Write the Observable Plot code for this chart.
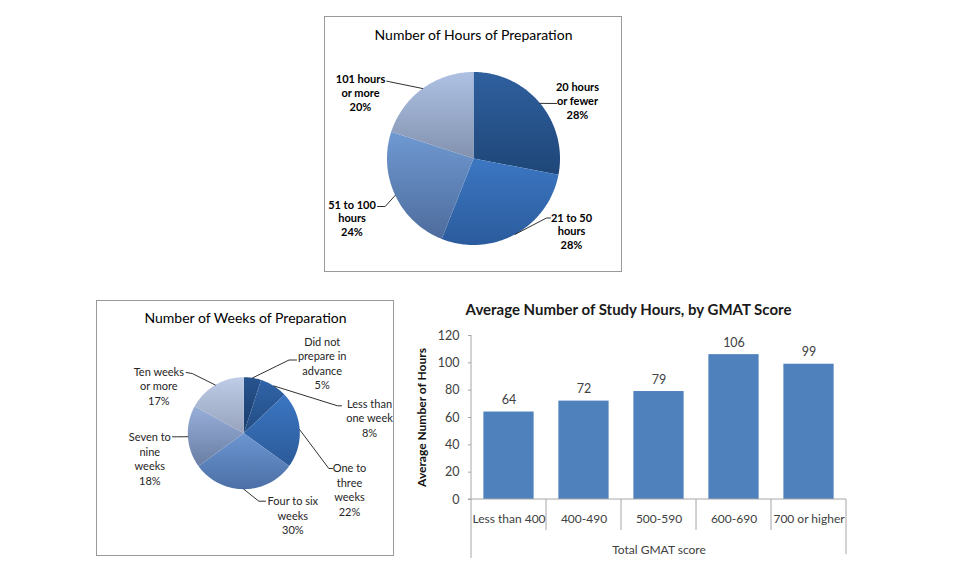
<!DOCTYPE html>
<html>
<head>
<meta charset="utf-8">
<script src="https://cdn.jsdelivr.net/npm/d3@7"></script>
<script src="https://cdn.jsdelivr.net/npm/@observablehq/plot@0.6"></script>
<style>
  html, body { margin: 0; padding: 0; background: #ffffff; }
  #page { position: relative; width: 955px; height: 583px; overflow: hidden; font-family: Lato, "Open Sans", sans-serif; }
  .box { position: absolute; border: 1px solid #9a9a9a; box-sizing: border-box; background: #ffffff; }
  .abs { position: absolute; }
</style>
</head>
<body>
<div id="page"></div>
<script>
// ---------------- DATA ----------------
const hoursCategories = ["20 hours\nor fewer", "21 to 50\nhours", "51 to 100\nhours", "101 hours\nor more"];
const hoursShares = [28, 28, 24, 20];

const weeksCategories = ["Did not\nprepare in\nadvance", "Less than\none week", "One to\nthree\nweeks", "Four to six\nweeks", "Seven to\nnine\nweeks", "Ten weeks\nor more"];
const weeksShares = [5, 8, 22, 30, 18, 17];

const scoreBands = ["Less than 400", "400-490", "500-590", "600-690", "700 or higher"];
const avgHours = [64, 72, 79, 106, 99];
const yTicks = [0, 20, 40, 60, 80, 100, 120];

const hoursTitle = "Number of Hours of Preparation";
const weeksTitle = "Number of Weeks of Preparation";
const barTitle = "Average Number of Study Hours, by GMAT Score";
const barYLabel = "Average Number of Hours";
const barXLabel = "Total GMAT score";

// ---------------- LAYOUT / STYLE (page pixel coordinates) ----------------
const hoursLayout = {
  box: {x: 324, y: 16, w: 298, h: 256},
  center: [473, 158], r: 86.5,
  titleAt: [473, 35],
  labelAt: [[577, 100], [571, 230.5], [351.5, 217.5], [360, 92]],
  leaderVia: [[[556, 103]], [[546, 217.5], [550, 217.5]], [[384.7, 206], [377, 206]], [[386.3, 80.7]]],
  colors: [["#2F609E", "#1E4678"], ["#3C77C2", "#2B5B9D"], ["#6F99D2", "#4E6C9C"], ["#AEC1E3", "#8292AF"]],
  bold: true, lineHeight: 1.27, labelColor: "#000000", id: "hg"
};
const weeksLayout = {
  box: {x: 96, y: 300, w: 298, h: 256},
  center: [243.3, 432.7], r: 56,
  titleAt: [245, 318],
  labelAt: [[321.7, 362.5], [369, 417], [349, 488.8], [292.3, 514.7], [149.3, 457.8], [158.3, 385]],
  leaderVia: [[[288.5, 359.5], [296, 359.5]], [[337, 405.3], [341, 405.3]], [[328.3, 468], [332, 468]],
              [[258.3, 500.7], [265, 500.7]], [[176, 436.3], [172, 436.3]], [[191.7, 373], [185.7, 372]]],
  colors: [["#27538E", "#1B3E6C"], ["#3064A8", "#234C82"], ["#3B76C2", "#2B5A99"], ["#6C96D1", "#4C6FA6"],
           ["#98AFDA", "#6A7EA3"], ["#BECCE7", "#97A3BC"]],
  bold: false, lineHeight: 1.31, labelColor: "#262626", id: "wg"
};
const barLayout = {x: 400, y: 295, w: 460, h: 272};

const page = document.getElementById("page");

// ---------------- PIE ----------------
function makePie(cfg, cats, shares, title) {
  const ox = cfg.box.x + 1, oy = cfg.box.y + 1;
  const W = cfg.box.w - 2, H = cfg.box.h - 2;
  const cx = cfg.center[0] - ox, cy = cfg.center[1] - oy, r = cfg.r;
  const ux = px => (px - cfg.center[0]) / r;
  const uy = py => (cfg.center[1] - py) / r;
  const total = d3.sum(shares);
  let acc = 0;
  const slices = shares.map((v, i) => {
    const a0 = acc / total * 2 * Math.PI; acc += v;
    const a1 = acc / total * 2 * Math.PI;
    return {i, cat: cats[i], value: v, a0, a1, mid: (a0 + a1) / 2};
  });
  const outline = s => {
    const n = Math.max(4, Math.ceil((s.a1 - s.a0) / (Math.PI / 180)));
    const pts = [{x: 0, y: 0}];
    for (let k = 0; k <= n; k++) {
      const a = s.a0 + (s.a1 - s.a0) * k / n;
      pts.push({x: Math.sin(a), y: Math.cos(a)});
    }
    pts.push({x: 0, y: 0});
    return pts;
  };
  const leaders = slices.flatMap(s => [
    {s: s.i, x: Math.sin(s.mid), y: Math.cos(s.mid)},
    ...cfg.leaderVia[s.i].map(p => ({s: s.i, x: ux(p[0]), y: uy(p[1])}))
  ]);
  const labels = slices.map(s => ({text: `${s.cat}\n${s.value}%`, x: ux(cfg.labelAt[s.i][0]), y: uy(cfg.labelAt[s.i][1])}));
  const defs = () => {
    const d = d3.create("svg:defs");
    cfg.colors.forEach((c, i) => {
      const g = d.append("linearGradient").attr("id", cfg.id + i)
        .attr("x1", 0).attr("y1", 0).attr("x2", 0).attr("y2", 1);
      g.append("stop").attr("offset", "0%").attr("stop-color", c[0]);
      g.append("stop").attr("offset", "100%").attr("stop-color", c[1]);
    });
    return d.node();
  };
  const svg = Plot.plot({
    width: W, height: H, margin: 0,
    style: {background: "transparent", overflow: "visible", fontFamily: "Lato, 'Open Sans', sans-serif"},
    x: {domain: [-1, 1], range: [cx - r, cx + r], axis: null},
    y: {domain: [-1, 1], range: [cy + r, cy - r], axis: null},
    marks: [
      defs,
      ...slices.map(s => Plot.line(outline(s), {x: "x", y: "y", fill: `url(#${cfg.id}${s.i})`, stroke: "none"})),
      Plot.line(leaders, {x: "x", y: "y", z: "s", stroke: "#1a1a1a", strokeWidth: 0.9}),
      Plot.text(labels, {x: "x", y: "y", text: "text", textAnchor: "middle", lineAnchor: "middle",
        lineHeight: cfg.lineHeight, fontSize: 11, fontWeight: cfg.bold ? "bold" : "normal", fill: cfg.labelColor}),
      Plot.text([title], {frameAnchor: "top-left", dx: cfg.titleAt[0] - ox, dy: cfg.titleAt[1] - oy,
        textAnchor: "middle", lineAnchor: "middle", fontSize: 14, fill: "#000000"})
    ]
  });
  const box = document.createElement("div");
  box.className = "box";
  box.style.left = cfg.box.x + "px"; box.style.top = cfg.box.y + "px";
  box.style.width = cfg.box.w + "px"; box.style.height = cfg.box.h + "px";
  box.appendChild(svg);
  page.appendChild(box);
}

makePie(hoursLayout, hoursCategories, hoursShares, hoursTitle);
makePie(weeksLayout, weeksCategories, weeksShares, weeksTitle);

// ---------------- BAR CHART ----------------
const bars = scoreBands.map((band, i) => ({band, hours: avgHours[i], i}));
const nBands = scoreBands.length;
const axisGray = "#a6a6a6";

function axisFrame(index, scales, values, dims) {
  const left = dims.marginLeft, right = dims.width - dims.marginRight;
  const top = dims.marginTop, bottom = dims.height - dims.marginBottom;
  const X = typeof scales.x === "function" ? scales.x : v => left + (right - left) * v / nBands;
  const Y = typeof scales.y === "function" ? scales.y : v => bottom - (bottom - top) * v / d3.max(yTicks);
  const y0 = Y(0), yTop = Y(d3.max(yTicks));
  const g = d3.create("svg:g").attr("stroke", axisGray).attr("stroke-width", 1).attr("fill", "none");
  const seg = (x1, y1, x2, y2) => g.append("line").attr("x1", x1).attr("y1", y1).attr("x2", x2).attr("y2", y2);
  seg(X(0) - 3, y0, X(nBands), y0);
  seg(X(0), yTop, X(0), y0 + 59);
  seg(X(nBands), y0, X(nBands), y0 + 55);
  for (let k = 1; k < nBands; k++) seg(X(k), y0, X(k), y0 + 31);
  return g.node();
}

const barSvg = Plot.plot({
  width: barLayout.w, height: barLayout.h,
  marginLeft: 71, marginRight: 14, marginTop: 40, marginBottom: 68,
  style: {background: "transparent", overflow: "visible", fontFamily: "Lato, 'Open Sans', sans-serif"},
  x: {domain: [0, nBands], axis: null},
  y: {domain: [0, d3.max(yTicks)], axis: null},
  marks: [
    Plot.rect(bars, {x1: d => d.i + 0.165, x2: d => d.i + 0.835, y1: () => 0, y2: "hours", fill: "#4F81BD"}),
    axisFrame,
    Plot.axisY({ticks: yTicks, tickSize: 3, tickPadding: 9, fontSize: 12.5, stroke: axisGray, fill: "#404040", label: null}),
    Plot.text(bars, {x: d => d.i + 0.5, y: "hours", text: d => String(d.hours), dy: -12, fontSize: 12.5, fill: "#404040"}),
    Plot.text(bars, {x: d => d.i + 0.5, y: () => 0, text: "band", dy: 20, fontSize: 12, fill: "#404040"}),
    Plot.text([barXLabel], {x: () => nBands / 2, y: () => 0, dy: 51, fontSize: 12, fill: "#404040"}),
    Plot.text([barYLabel], {frameAnchor: "left", rotate: -90, dx: -49, textAnchor: "middle", lineAnchor: "middle",
      fontSize: 12, fontWeight: "bold", fill: "#111111"}),
    Plot.text([barTitle], {frameAnchor: "top-left", dx: 157, dy: -25, textAnchor: "middle", lineAnchor: "middle",
      fontSize: 15, fontWeight: "bold", fill: "#1a1a1a"})
  ]
});
const barWrap = document.createElement("div");
barWrap.className = "abs";
barWrap.style.left = barLayout.x + "px"; barWrap.style.top = barLayout.y + "px";
barWrap.appendChild(barSvg);
page.appendChild(barWrap);
</script>
</body>
</html>
